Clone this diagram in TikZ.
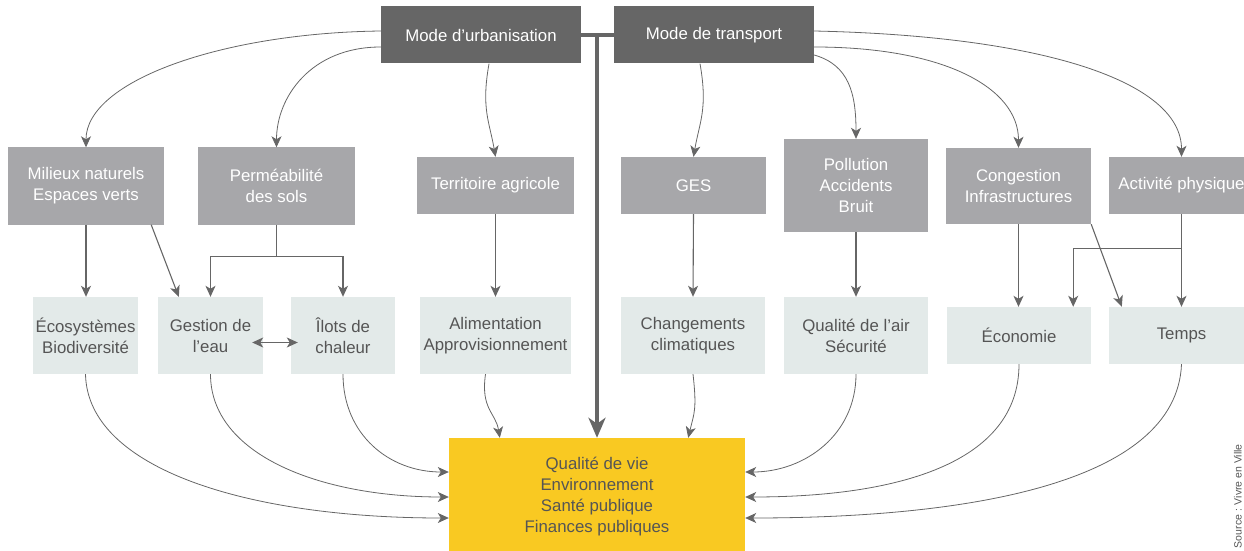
\documentclass[tikz,border=0pt]{standalone}
\usepackage{fontspec}
\setmainfont{Liberation Sans}
\usetikzlibrary{arrows.meta,calc}
\definecolor{fonce}{HTML}{666666}
\definecolor{moyen}{HTML}{A7A7AA}
\definecolor{pale}{HTML}{E3EAE9}
\definecolor{jaune}{HTML}{F9C922}
\definecolor{trait}{HTML}{666666}
\definecolor{texte}{HTML}{555555}

\begin{document}
\begin{tikzpicture}[x=1pt,y=1pt,
        >={Stealth[length=11pt,width=10pt,inset=3pt]},
        every node/.style={font=\fontsize{16.8}{21}\selectfont, align=center, inner sep=0pt},
        modebox/.style={fill=fonce, text=white, minimum width=200pt, minimum height=57pt},
        enjeubox/.style={fill=moyen, text=white},
        effetbox/.style={fill=pale, text=texte},
        bilanbox/.style={fill=jaune, text=texte},
        lien/.style={draw=trait, line width=1.1pt, ->},
        courbe/.style={lien, line width=0.8pt},
        tronc/.style={draw=trait, line width=4pt}
    ]
	\useasboundingbox (0,0) rectangle (1244,550);
	\clip (0,0) rectangle (1244,550);

	% modes
	\node[modebox] (urb) at (481,515) {Mode d’urbanisation};
	\node[modebox] (trans) at (714,515) {Mode de transport};

	% enjeux
	\node[enjeubox, minimum width=156pt, minimum height=77pt] (milieux) at (86,364) {Milieux naturels\\Espaces verts};
	\node[enjeubox, minimum width=157pt, minimum height=77pt] (perm) at (276.5,364) {Perméabilité\\des sols};
	\node[enjeubox, minimum width=157pt, minimum height=57pt] (terr) at (495.5,364.5) {Territoire agricole};
	\node[enjeubox, minimum width=145pt, minimum height=57pt] (ges) at (693.5,364.5) {GES};
	\node[enjeubox, minimum width=144pt, minimum height=93pt] (poll) at (856,364.5) {Pollution\\Accidents\\Bruit};
	\node[enjeubox, minimum width=145pt, minimum height=76pt] (cong) at (1018.5,364) {Congestion\\Infrastructures};
	\node[enjeubox, minimum width=145pt, minimum height=57pt] (activ) at (1181.5,364.5) {Activité physique};

	% effets
	\node[effetbox, minimum width=105pt, minimum height=77pt] (eco) at (85.5,214.5) {Écosystèmes\\Biodiversité};
	\node[effetbox, minimum width=105pt, minimum height=77pt] (gest) at (210.5,214.5) {Gestion de\\l’eau};
	\node[effetbox, minimum width=104pt, minimum height=77pt] (ilots) at (343,214.5) {Îlots de\\chaleur};
	\node[effetbox, minimum width=151pt, minimum height=77pt] (alim) at (495.5,214.5) {Alimentation\\Approvisionnement};
	\node[effetbox, minimum width=144pt, minimum height=77pt] (chang) at (693,214.5) {Changements\\climatiques};
	\node[effetbox, minimum width=144pt, minimum height=77pt] (qual) at (856,214.5) {Qualité de l’air\\Sécurité};
	\node[effetbox, minimum width=144pt, minimum height=57pt] (econ) at (1019,214.5) {Économie};
	\node[effetbox, minimum width=145pt, minimum height=57pt] (temps) at (1181.5,214.5) {Temps};

	\node[bilanbox, minimum width=296pt, minimum height=118pt] (qdv) at (597,53) {Qualité de vie\\Environnement\\Santé publique\\Finances publiques};

	\node[rotate=90, anchor=base east, font=\fontsize{10.5}{13}\selectfont, text=texte] (source) at (1241.5,106) {Source : Vivre en Ville};

	% tronc central
	\draw[tronc] (urb.east) -- (trans.west);
	\draw[tronc, -{Stealth[length=20pt,width=17pt,inset=6pt]}] (qdv.north |- urb.east) -- (qdv.north);

	% modes -> enjeux
	\draw[courbe] ($(urb.west)+(0,4)$) .. controls +(-160,-2) and +(0,66) .. (milieux.north);
	\draw[courbe] ($(urb.west)+(0,-12)$) .. controls +(-70,0) and +(0,50) .. (perm.north);
	\draw[courbe] ($(urb.south)+(8,0)$) .. controls +(-8,-45) and +(-6,35) .. (terr.north);
	\draw[courbe] ($(trans.south)+(-14,0)$) .. controls +(8,-45) and +(6,35) .. (ges.north);
	\draw[courbe] ($(trans.east)+(0,-20)$) .. controls +(35,-10) and +(0,45) .. (poll.north);
	\draw[courbe] ($(trans.east)+(0,-12)$) .. controls +(130,0) and +(0,60) .. (cong.north);
	\draw[courbe] ($(trans.east)+(0,4)$) .. controls +(230,-5) and +(0,75) .. (activ.north);

	% enjeux -> effets
	\draw[lien] (milieux.south) -- (milieux.south |- eco.north);
	\draw[lien] ($(milieux.south east)+(-13,0)$) -- ($(gest.north west)+(21,0)$);
	\coordinate (permsplit) at ($(perm.south)+(0,-32)$);
	\draw[lien] (perm.south) -- (permsplit) -| (gest.north);
	\draw[lien] (permsplit) -| (ilots.north);
	\draw[lien, <->, shorten <=-11pt, shorten >=-7pt] ($(gest.east)+(0,-7)$) -- ($(ilots.west)+(0,-7)$);
	\draw[lien] (terr.south) -- (alim.north);
	\draw[lien] (ges.south) -- (chang.north);
	\draw[lien] (poll.south) -- (qual.north);
	\draw[lien] (cong.south) -- (cong.south |- econ.north);
	\draw[lien] (cong.south east) -- ($(temps.north west)+(13,0)$);
	\draw[lien] (activ.south) -- (temps.north);
	\coordinate (activsplit) at ($(activ.south)+(0,-34)$);
	\draw[lien] (activsplit) -| ($(econ.north east)+(-18,0)$);

	% effets -> bilan
	\draw[courbe] (eco.south) .. controls +(2,-95) and +(-200,0) .. ($(qdv.west)+(0,-21)$);
	\draw[courbe] (gest.south) .. controls +(0,-80) and +(-130,0) .. (qdv.west);
	\draw[courbe] (ilots.south) .. controls +(0,-60) and +(-60,0) .. ($(qdv.west)+(0,25)$);
	\draw[courbe] ($(alim.south)+(-10,0)$) .. controls +(-5,-35) and +(-4,25) .. ($(qdv.north west)+(51,0)$);
	\draw[courbe] (chang.south) .. controls +(4,-35) and +(6,25) .. ($(qdv.north east)+(-57,0)$);
	\draw[courbe] (qual.south) .. controls +(0,-60) and +(60,0) .. ($(qdv.east)+(0,25)$);
	\draw[courbe] (econ.south) .. controls +(0,-100) and +(150,0) .. (qdv.east);
	\draw[courbe] (temps.south) .. controls +(-5,-120) and +(220,0) .. ($(qdv.east)+(0,-21)$);
\end{tikzpicture}
\end{document}
